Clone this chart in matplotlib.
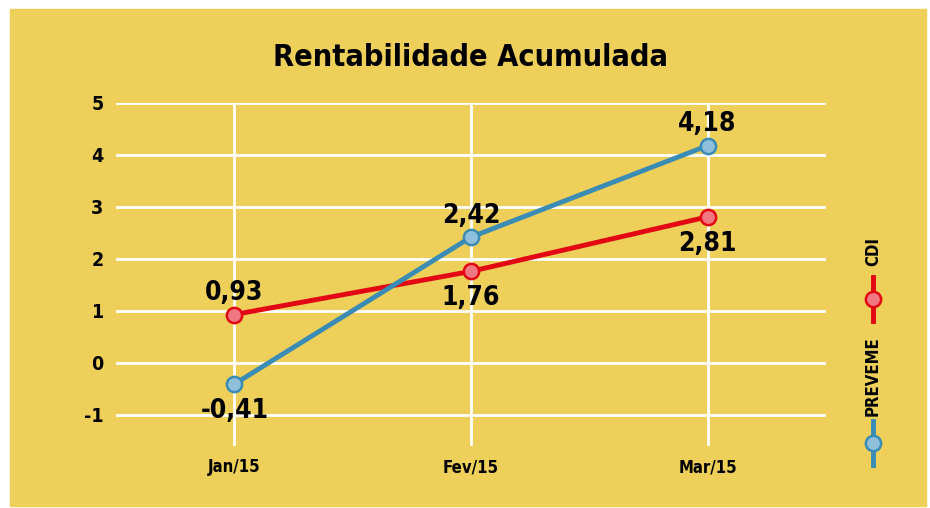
import matplotlib
matplotlib.use("Agg")
import matplotlib.pyplot as plt
from matplotlib import font_manager

months = ["Jan/15", "Fev/15", "Mar/15"]
cdi = [0.93, 1.76, 2.81]
preveme = [-0.41, 2.42, 4.18]
y_ticks = [-1, 0, 1, 2, 3, 4, 5]

BG = "#edcf5a"
RED = "#e30613"
RED_LIGHT = "#f07882"
BLUE = "#3a8cb5"
BLUE_LIGHT = "#8fc0db"

names = {f.name for f in font_manager.fontManager.ttflist}
if "Liberation Sans Narrow" in names:
    FONT = ["Liberation Sans Narrow", "DejaVu Sans"]
else:
    FONT = ["DejaVu Sans"]
plt.rcParams["font.family"] = FONT
plt.rcParams["font.weight"] = "bold"
plt.rcParams["font.stretch"] = "condensed"


def fmt(v):
    return f"{v:.2f}".replace(".", ",")


fig = plt.figure(figsize=(9.3, 5.08), dpi=100)
fig.patch.set_facecolor("white")
W, H = 930, 508
fig.patches.append(plt.Rectangle((10 / W, 1 - 506 / H), 916 / W, 497 / H,
                                 transform=fig.transFigure, color=BG, zorder=-5))

ax = fig.add_axes([116 / W, 1 - 446 / H, 710 / W, 343 / H])
ax.set_facecolor("none")
ax.set_xlim(-0.5, 2.5)
ax.set_ylim(-1.6, 5)
for s in ax.spines.values():
    s.set_visible(False)

xs = range(len(months))
for y in y_ticks:
    ax.axhline(y, color="white", lw=2, zorder=1)
for x in xs:
    ax.plot([x, x], [-1.6, 5], color="white", lw=2, zorder=1, solid_capstyle="butt")

ax.plot(xs, cdi, color=RED, lw=3.5, marker="o", ms=11, mfc=RED_LIGHT, mec=RED,
        mew=1.8, zorder=3)
ax.plot(xs, preveme, color=BLUE, lw=3.5, marker="o", ms=11, mfc=BLUE_LIGHT, mec=BLUE,
        mew=1.8, zorder=4)

# data labels: the upper series gets its label above, the lower one below
for i, (c, p) in enumerate(zip(cdi, preveme)):
    top, bot = (c, p) if c > p else (p, c)
    ax.annotate(fmt(top), (i, top), xytext=(0, 6), textcoords="offset points",
                ha="center", va="bottom", fontsize=19, fontweight="bold")
    ax.annotate(fmt(bot), (i, bot), xytext=(0, -10), textcoords="offset points",
                ha="center", va="top", fontsize=19, fontweight="bold")

ax.set_yticks(y_ticks)
ax.set_yticklabels([str(v) for v in y_ticks], fontsize=14, fontweight="bold")
ax.set_xticks(list(xs))
ax.set_xticklabels(months, fontsize=12, fontweight="bold")
ax.tick_params(axis="y", length=0, pad=9)
ax.tick_params(axis="x", length=0, pad=9)

fig.text(470 / W, 1 - 58 / H, "Rentabilidade Acumulada", ha="center", va="center",
         fontsize=22, fontweight="bold")

# legend: rotated labels with short vertical line + marker
for label, col, light, ty, ly in [("CDI", RED, RED_LIGHT, 252, 299),
                                  ("PREVEME", BLUE, BLUE_LIGHT, 376, 443)]:
    fig.text(873 / W, 1 - ty / H, label, rotation=90, ha="center", va="center",
             fontsize=12, fontweight="bold")
    fig.add_artist(plt.Line2D([873 / W, 873 / W], [1 - (ly - 22) / H, 1 - (ly + 22) / H],
                              color=col, lw=3.5, transform=fig.transFigure))
    fig.add_artist(plt.Line2D([873 / W], [1 - ly / H], marker="o", ms=11, mfc=light,
                              mec=col, mew=1.8, transform=fig.transFigure))

fig.savefig("out.png", dpi=100, facecolor="white")
